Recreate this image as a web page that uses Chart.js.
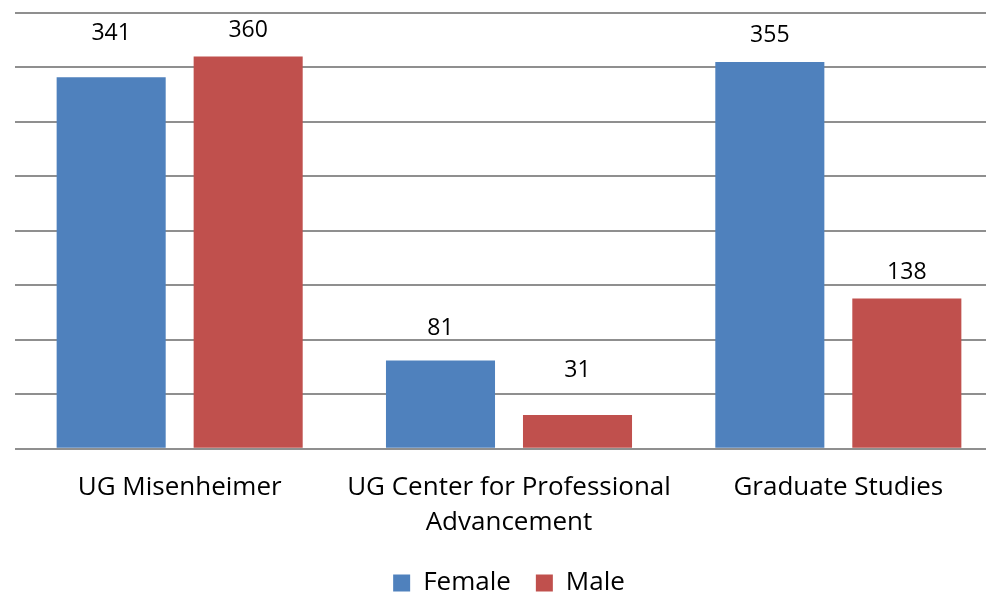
<!DOCTYPE html>
<html>
<head>
<meta charset="utf-8">
<script src="https://cdn.jsdelivr.net/npm/chart.js@4/dist/chart.umd.min.js"></script>
<style>
  html, body { margin: 0; padding: 0; background: #fff; overflow: hidden; }
  #wrap { position: absolute; left: 0; top: 0; }
</style>
</head>
<body>
<div id="wrap"><canvas id="myChart" width="1003" height="606"></canvas></div>
<script>
   // categories (second one wraps onto two lines like the original)
   var categories = ["UG Misenheimer", ["UG Center for Professional", "Advancement"], "Graduate Studies"];
   var female = [341, 81, 355];
   var male = [360, 31, 138];
   var yTicks = [0, 50, 100, 150, 200, 250, 300, 350, 400];

   // how far above the bar top each value label sits (px), as placed in the original
   var labelLift = [[44, 32, 27], [26, 45, 26]];

   var FONT = "'Open Sans', 'Noto Sans', sans-serif";

   var valueLabels = {
       id: 'valueLabels',
       afterDatasetsDraw: function (chart) {
           var c = chart.ctx;
           c.save();
           c.font = '23px ' + FONT;
           c.fillStyle = '#000';
           c.textAlign = 'center';
           c.textBaseline = 'middle';
           chart.data.datasets.forEach(function (ds, di) {
               chart.getDatasetMeta(di).data.forEach(function (bar, i) {
                   c.fillText(String(ds.data[i]), bar.x, bar.y - labelLift[di][i]);
               });
           });
           c.restore();
       }
   };

   var ctx = document.getElementById('myChart').getContext('2d');
   var chart = new Chart(ctx, {
       type: 'bar',
       data: {
           labels: categories,
           datasets: [{
               label: "Female",
               backgroundColor: '#4F81BD',
               data: female,
           },
           {
               label: "Male",
               backgroundColor: '#C0504D',
               data: male,
           }]
       },
       options: {
           responsive: false,
           animation: false,
           categoryPercentage: 0.832,
           barPercentage: 0.796,
           layout: { padding: { top: 13, left: 15, right: 0, bottom: 0 } },
           scales: {
               x: {
                   grid: { display: false, drawTicks: false },
                   border: { display: false },
                   afterFit: function (axis) { axis.height -= 16; },
                   ticks: {
                       color: '#000',
                       padding: 21,
                       maxRotation: 0,
                       autoSkip: false,
                       font: { family: FONT, size: 26, lineHeight: 1.35 }
                   }
               },
               y: {
                   min: 0,
                   max: 400,
                   afterBuildTicks: function (axis) {
                       axis.ticks = yTicks.map(function (v) { return { value: v }; });
                   },
                   ticks: { display: false },
                   border: { display: false },
                   grid: { color: '#8f8f8f', lineWidth: 2, drawTicks: false }
               }
           },
           plugins: {
               tooltip: { enabled: false },
               legend: {
                   position: 'bottom',
                   labels: {
                       color: '#000',
                       boxWidth: 17,
                       boxHeight: 17,
                       padding: 25,
                       font: { family: FONT, size: 26 }
                   }
               }
           }
       },
       plugins: [valueLabels]
   });
</script>
</body>
</html>
